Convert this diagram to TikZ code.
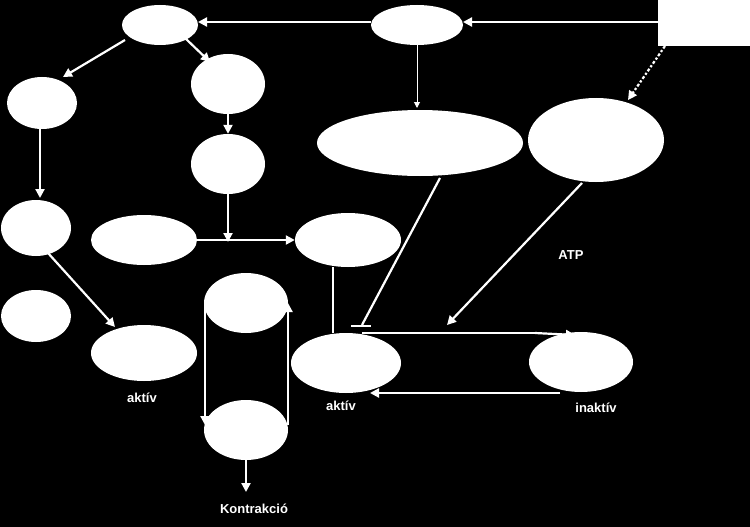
\documentclass[tikz,border=0pt]{standalone}
\usepackage{fontspec}
\setmainfont{Liberation Sans}
\usetikzlibrary{arrows.meta,shapes.geometric}
\begin{document}
\begin{tikzpicture}[x=1pt,y=-1pt,
  el/.style={ellipse,fill=white,draw=none,inner sep=0pt},
  ar/.style={draw=white,line width=2.2pt,-{Triangle[length=9pt,width=9pt]}},
  ln/.style={draw=white,line width=2.2pt},
  lbl/.style={text=white,font=\bfseries\fontsize{13}{15}\selectfont}]
\fill[black] (0,0) rectangle (750,527);
\useasboundingbox (0,0) rectangle (750,527);
\newcommand{\E}[5]{\node[el,minimum width=#4pt,minimum height=#5pt] (#1) at (#2,#3) {};}
\E{e1}{160}{25}{76}{40}
\E{e2}{417}{25}{92}{40}
\node[fill=white,minimum width=92pt,minimum height=46pt,inner sep=0pt] (r) at (704,23) {};
\E{e3}{42}{103}{70}{52}
\E{e4}{228}{84}{74}{60}
\E{e5}{228}{164}{74}{60}
\E{e6}{420}{143}{206}{66}
\E{e7}{596}{140}{136}{84}
\E{e8}{36}{228}{70}{56}
\E{e9}{144}{240}{106}{50}
\E{e10}{348}{240}{106}{54}
\E{e11}{36}{316}{70}{52}
\E{e12}{246}{303}{84}{60}
\E{e13}{144}{353}{106}{56}
\E{e14}{346}{363}{110}{60}
\E{e15}{581}{362}{104}{60}
\E{e16}{246}{430}{84}{60}
\coordinate (c1) at (658,22);
\draw[ar] (c1) -- (463,22);
\draw[ar] (371,22) -- (198,22);
\draw[draw=white,line width=2.2pt,dash dot,-{Triangle[length=9pt,width=9pt]}] (665,46) -- (628,100);
\draw[draw=white,line width=1pt,-{Triangle[length=6pt,width=6pt]}] (e2.south) -- (417,108);
\draw[ar] (125,40) -- (63,77);
\draw[ar] (185,38) -- (210,62);
\draw[ar] (e4.south) -- (e5.north);
\draw[ar] (40,129) -- (40,198);
\draw[ar] (e5.south) -- (228,242);
\draw[ar] (e9.east) -- (e10.west);
\draw[ar] (48,253) -- (115,327);
\draw[ln] (333,267) -- (333,333);
\draw[ln] (440,178) -- (362,325);
\draw[ln] (351,326) -- (371,326);
\draw[ar] (582,183) -- (447,325);
\draw[ln] (362,333) -- (535,333);
\draw[ar] (535,333) -- (575,335);
\draw[ln] (560,393) -- (400,393);
\draw[ar] (400,393) -- (370,393);
\draw[ar] (205,300) -- (205,425);
\draw[ar] (288,425) -- (288,303);
\draw[ar] (e16.south) -- (246,492);
\node[lbl] at (142,398) {aktív};
\node[lbl] at (341,406) {aktív};
\node[lbl] at (596,408) {inaktív};
\node[lbl] at (571,255) {ATP};
\node[lbl] at (254,509) {Kontrakció};
\end{tikzpicture}
\end{document}
